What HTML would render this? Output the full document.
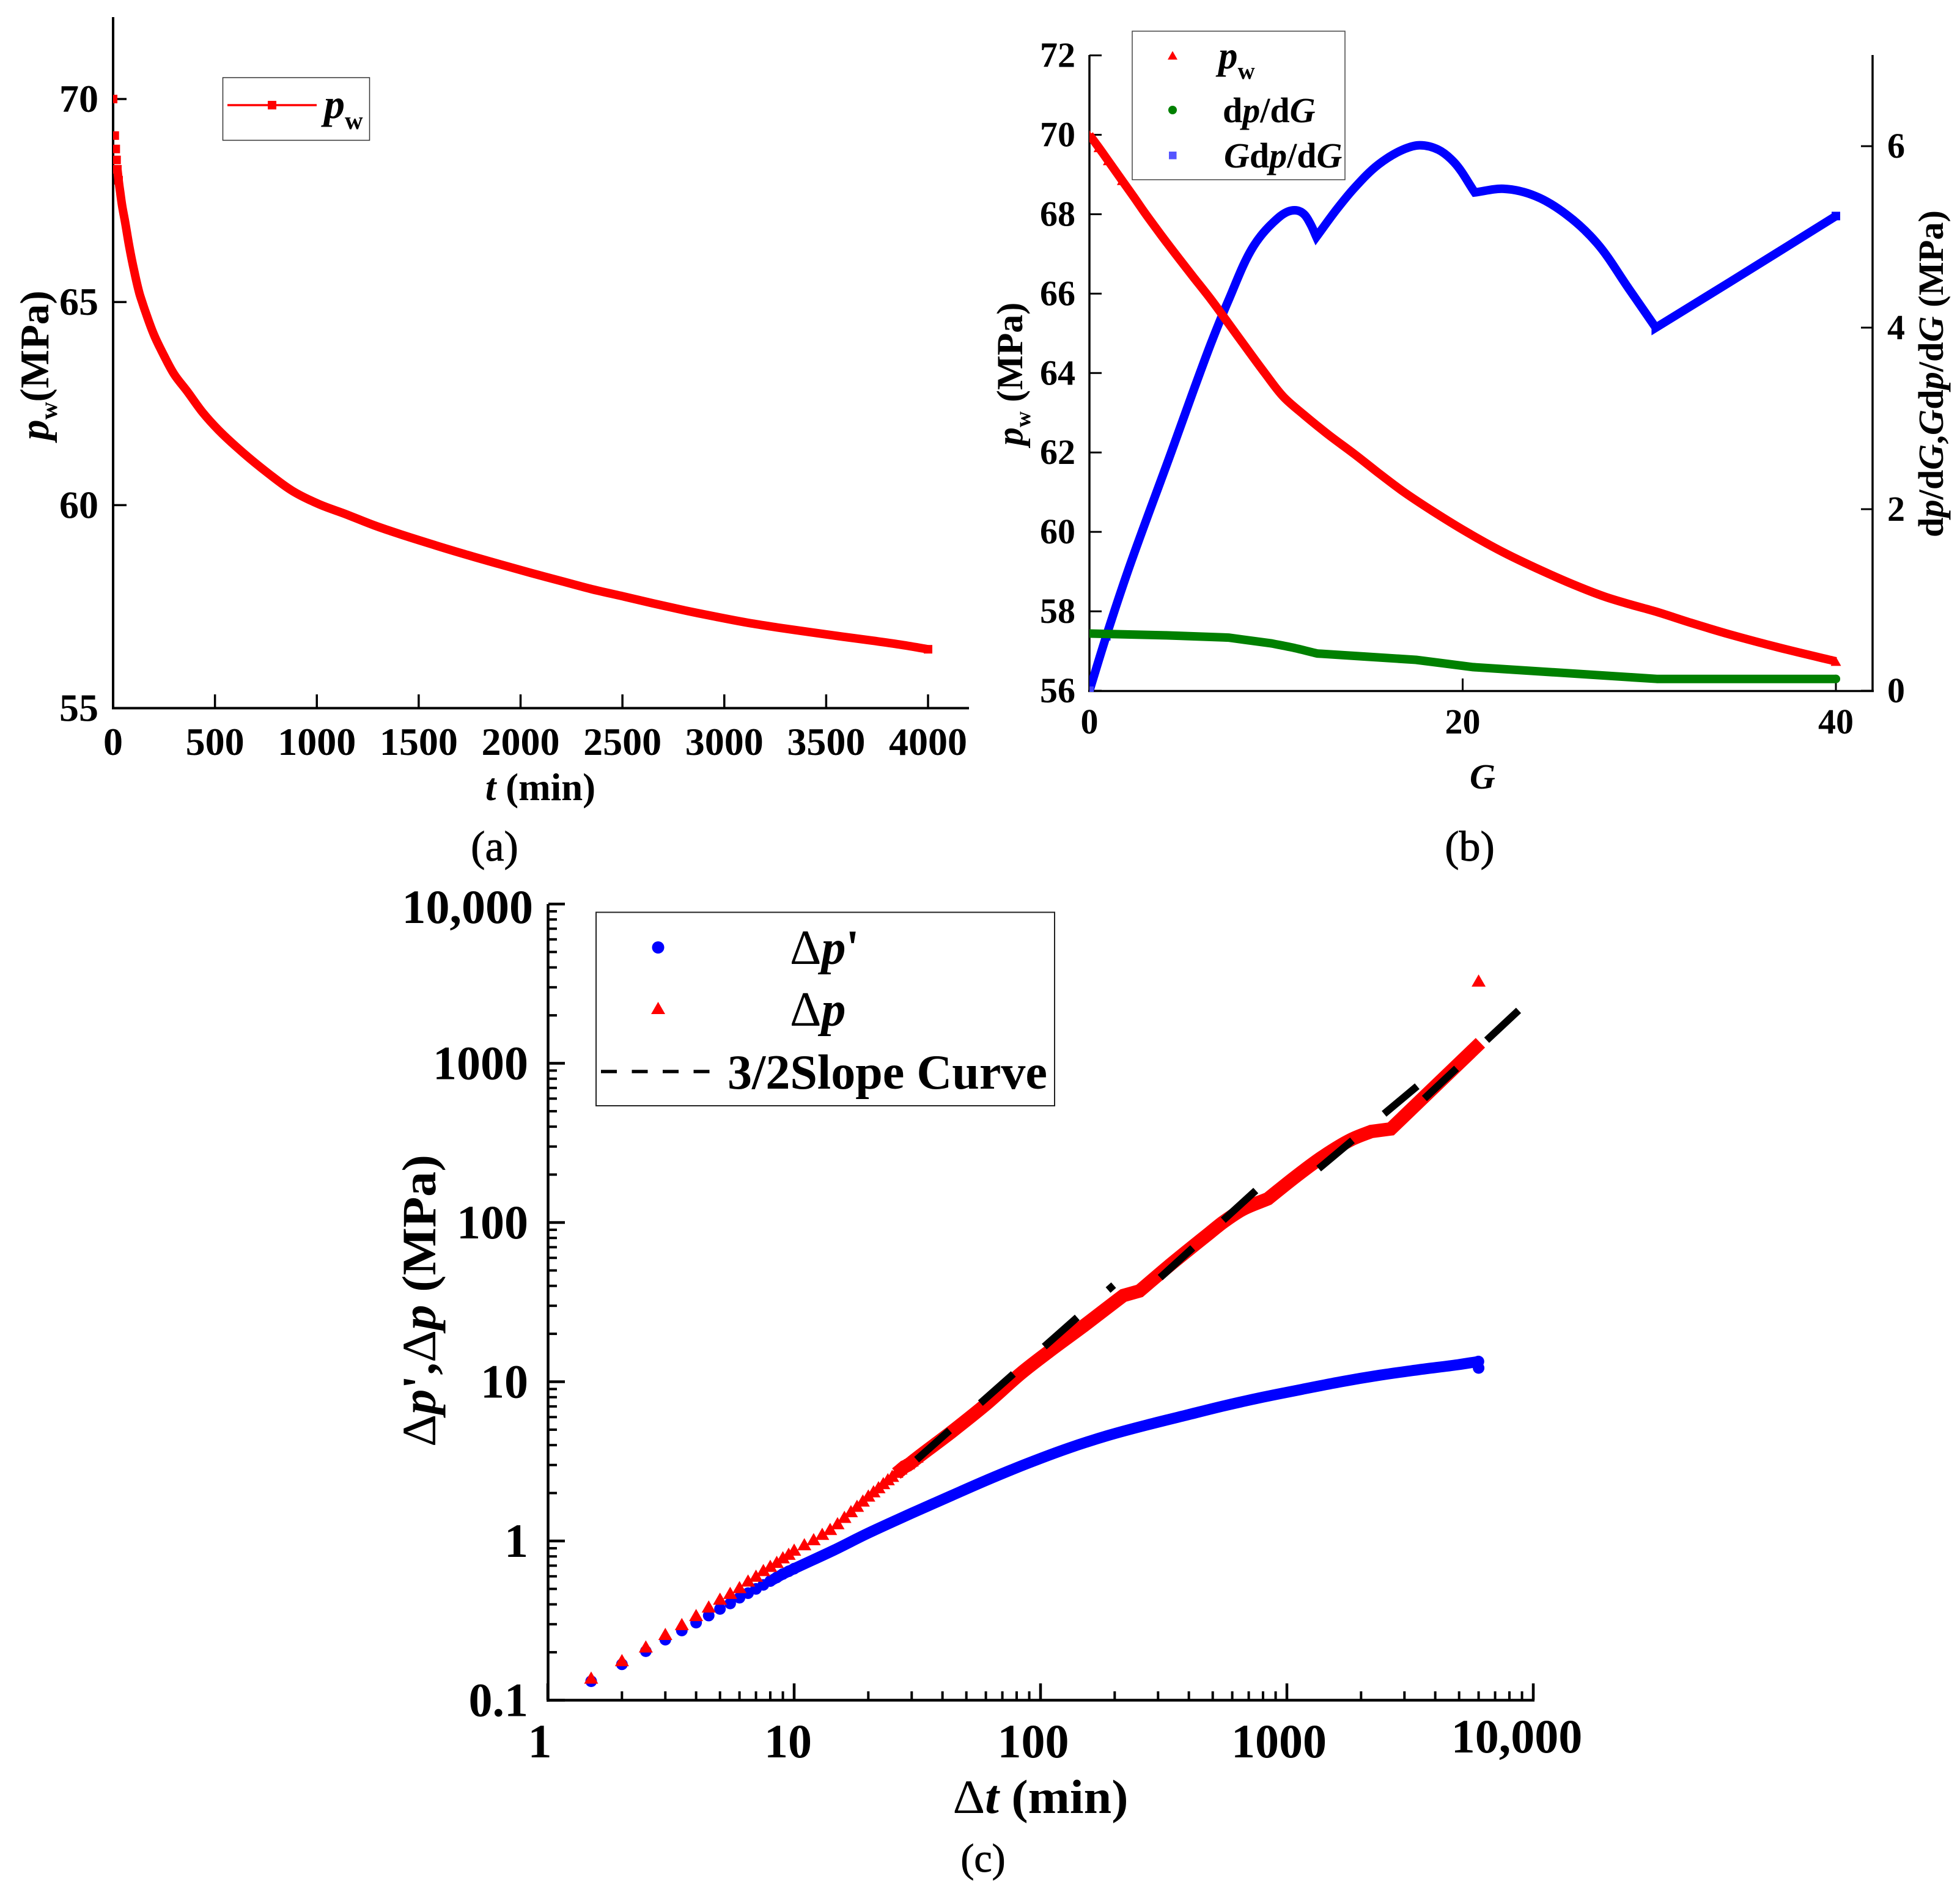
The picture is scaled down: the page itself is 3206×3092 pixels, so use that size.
<!DOCTYPE html>
<html lang="en">
<head>
<meta charset="utf-8">
<title>Pressure fall-off analysis charts</title>
<style>
html,body{margin:0;padding:0;background:#fff;}
svg{display:block;}
text{font-family:"Liberation Serif",serif;font-weight:bold;fill:#000;}
.i{font-style:italic;}
.cap{font-weight:normal;stroke:#000;stroke-width:0.9;}
</style>
</head>
<body>
<svg id="fig" xmlns="http://www.w3.org/2000/svg" width="3206" height="3092" viewBox="0 0 3206 3092">
<defs>
<clipPath id="clipA"><rect x="185" y="20" width="1410" height="1140"/></clipPath>
<clipPath id="clipB"><rect x="1782" y="60" width="1290" height="1072"/></clipPath>
</defs>
<rect width="3206" height="3092" fill="#fff"/>

<g id="panelA">
<g id="axA"></g>
<g id="seriesA" clip-path="url(#clipA)"></g>
<text x="884" y="1309" font-size="63" text-anchor="middle"><tspan class="i">t</tspan> (min)</text>
<text transform="translate(79,720) rotate(-90)" font-size="67"><tspan class="i">p</tspan><tspan font-size="40" dy="14">w</tspan><tspan dy="-14">(MPa)</tspan></text>
<g>
<rect x="364.5" y="127" width="240" height="102.5" fill="#fff" stroke="#333" stroke-width="1.5"/>
<line x1="372" y1="172" x2="518" y2="172" stroke="#f00" stroke-width="3.5"/>
<rect x="438" y="165" width="14" height="14" fill="#f00"/>
<text x="530" y="193" font-size="68" class="i">p<tspan font-size="41" dy="18" font-style="normal">w</tspan></text>
</g>
<text x="809" y="1408" font-size="70" text-anchor="middle" class="cap">(a)</text>
</g>

<g id="panelB">
<g id="axB"></g>
<g id="seriesB" clip-path="url(#clipB)"></g>
<text x="2425" y="1290" font-size="58" text-anchor="middle" class="i">G</text>
<text transform="translate(1672,729) rotate(-90)" font-size="60"><tspan class="i">p</tspan><tspan font-size="36" dy="13">w</tspan><tspan dy="-13"> (MPa)</tspan></text>
<text transform="translate(3178,879) rotate(-90)" font-size="58" textLength="535" lengthAdjust="spacingAndGlyphs">d<tspan class="i">p</tspan>/d<tspan class="i">G</tspan>,<tspan class="i">G</tspan>d<tspan class="i">p</tspan>/d<tspan class="i">G</tspan> (MPa)</text>
<g>
<rect x="1852" y="51" width="348" height="243" fill="#fff" stroke="#444" stroke-width="1.5"/>
<polygon points="1918,83.5 1926,97.5 1910,97.5" fill="#f00"/>
<circle cx="1918" cy="180" r="7" fill="#008000"/>
<rect x="1912" y="248" width="12.5" height="12.5" fill="#5555ff"/>
<text x="1993" y="112" font-size="63" class="i">p<tspan font-size="39" dy="17" font-style="normal">w</tspan></text>
<text x="2000" y="200" font-size="58">d<tspan class="i">p</tspan>/d<tspan class="i">G</tspan></text>
<text x="2002" y="274" font-size="58"><tspan class="i">G</tspan>d<tspan class="i">p</tspan>/d<tspan class="i">G</tspan></text>
</g>
<text x="2404" y="1408" font-size="70" text-anchor="middle" class="cap">(b)</text>
</g>

<g id="panelC">
<g id="axC"></g>
<g id="seriesC"></g>
<text x="1702" y="2966" font-size="78" text-anchor="middle" textLength="287" lengthAdjust="spacingAndGlyphs"><tspan font-weight="normal">Δ</tspan><tspan class="i">t</tspan> (min)</text>
<text transform="translate(712,2367) rotate(-90)" font-size="78" textLength="478" lengthAdjust="spacingAndGlyphs"><tspan font-weight="normal">Δ</tspan><tspan class="i">p</tspan>',<tspan font-weight="normal">Δ</tspan><tspan class="i">p</tspan> (MPa)</text>
<g>
<rect x="975" y="1492.5" width="750" height="316.5" fill="#fff" stroke="#222" stroke-width="2"/>
<circle cx="1076.5" cy="1550" r="10" fill="#00f"/>
<polygon points="1076.5,1639 1088,1659 1065,1659" fill="#f00"/>
<line x1="983" y1="1753" x2="1161" y2="1753" stroke="#000" stroke-width="5.5" stroke-dasharray="26 24.5"/>
<text x="1292" y="1577" font-size="80"><tspan font-weight="normal">Δ</tspan><tspan class="i">p</tspan>'</text>
<text x="1292" y="1678" font-size="80"><tspan font-weight="normal">Δ</tspan><tspan class="i">p</tspan></text>
<text x="1190" y="1781" font-size="80" textLength="523" lengthAdjust="spacingAndGlyphs">3/2Slope Curve</text>
</g>
<text x="1608" y="3062" font-size="66" text-anchor="middle" class="cap">(c)</text>
</g>
</svg>

<script>
// ---------- Panel (a) data ----------
const aTicksX = [0, 500, 1000, 1500, 2000, 2500, 3000, 3500, 4000];
const aTicksY = [55, 60, 65, 70];
const aTime = [0, 8, 13, 17, 21, 27, 35, 45, 58, 80, 104, 130, 144, 156, 200, 248, 300, 364, 440, 517, 640, 762, 880, 1007, 1140, 1282, 1430, 1588, 1740, 1894, 2050, 2200, 2350, 2506, 2650, 2812, 2960, 3118, 3270, 3424, 3580, 3730, 3870, 4000];
const aPressure = [70, 69.1, 68.77, 68.5, 68.27, 68.0, 67.7, 67.35, 67.0, 66.35, 65.75, 65.2, 64.98, 64.8, 64.2, 63.7, 63.22, 62.8, 62.28, 61.85, 61.28, 60.78, 60.35, 60.03, 59.78, 59.5, 59.25, 59, 58.77, 58.55, 58.33, 58.13, 57.93, 57.75, 57.58, 57.4, 57.25, 57.1, 56.98, 56.87, 56.76, 56.66, 56.56, 56.45];

// ---------- Panel (b) data ----------
const bTicksX = [0, 20, 40];
const bTicksLeft = [56, 58, 60, 62, 64, 66, 68, 70, 72];
const bTicksRight = [0, 2, 4, 6];
const bPwG = [0, 0.5, 1, 1.75, 2.4, 2.99, 3.8, 4.77, 5.6, 6.52, 7.19, 8.3, 9.4, 10.4, 11.49, 12.8, 14.17, 15.5, 16.86, 18.4, 20.2, 22.2, 24.25, 25.9, 27.6, 29, 30.3, 32.3, 34.3, 37, 40];
const bPw = [70, 69.68, 69.35, 68.85, 68.42, 68.02, 67.5, 66.9, 66.4, 65.85, 65.42, 64.7, 64, 63.4, 62.95, 62.45, 61.97, 61.48, 61, 60.52, 60, 59.48, 59.02, 58.68, 58.37, 58.17, 58, 57.7, 57.42, 57.08, 56.74];
const bDpG = [0, 4.1, 7.45, 9.8, 11, 12.2, 17.5, 20.56, 30.4, 40];
const bDp = [0.63, 0.61, 0.585, 0.52, 0.47, 0.41, 0.34, 0.26, 0.13, 0.13];
const bGdpG = [0, 0.9, 2.08, 4.37, 5.6, 6.5, 7.45, 8.8, 9.8, 10.65, 11.15, 11.5, 11.85, 12.16, 13.2, 14.2, 15.5, 16.9, 17.7, 18.7, 19.55, 20.65, 22.2, 23.9, 25.6, 27.2, 28.9, 30.35, 34.3, 40];
const bGdp = [0, 0.6, 1.33, 2.62, 3.32, 3.82, 4.3, 4.9, 5.15, 5.28, 5.29, 5.25, 5.14, 5.0, 5.29, 5.54, 5.8, 5.97, 6.01, 5.96, 5.82, 5.49, 5.53, 5.45, 5.24, 4.93, 4.43, 4, 4.5, 5.23];

// ---------- Panel (c) data ----------
const cTicksX = [1, 10, 100, 1000, 10000];
const cLabelsX = ['1', '10', '100', '1000', '10,000'];
const cTicksY = [0.1, 1, 10, 100, 1000, 10000];
const cLabelsY = ['0.1', '1', '10', '100', '1000', '10,000'];
const cMinor = [2, 3, 4, 5, 6, 7, 8, 9];
const cBlueT = [1.5, 2, 2.5, 3, 3.5, 4, 4.5, 5, 5.5, 6, 6.5, 7, 7.5, 8, 8.5, 9, 9.5, 10, 14.6, 19.5, 30.2, 43.6, 62.8, 90, 130, 188, 270, 388, 560, 800, 1153, 1660, 2390, 3430, 4950, 5990, 6000];
const cBlueV = [0.1315, 0.168, 0.203, 0.24, 0.274, 0.307, 0.34, 0.374, 0.405, 0.44, 0.47, 0.5, 0.53, 0.56, 0.59, 0.62, 0.645, 0.67, 0.88, 1.1, 1.5, 1.93, 2.47, 3.1, 3.83, 4.6, 5.35, 6.15, 7.08, 8, 8.96, 10, 11, 11.9, 12.8, 13.4, 12.2];
const cRedT = [1.5, 2, 2.5, 3, 3.5, 4, 4.5, 5, 5.5, 6, 6.5, 7, 7.5, 8, 8.5, 9, 9.5, 10, 11, 12, 13, 14, 15, 16, 17, 18, 19, 20, 21, 22, 23, 24, 25, 26, 27, 28, 29, 30, 31.4, 43.6, 59.8, 83.3, 107.7, 150, 188.5, 217, 252.4, 334, 490, 549, 662, 838, 1071, 1393, 1833, 2198, 2642, 6100];
const cRedV = [0.135, 0.174, 0.212, 0.254, 0.293, 0.334, 0.378, 0.423, 0.46, 0.5, 0.55, 0.59, 0.64, 0.68, 0.72, 0.77, 0.81, 0.86, 0.93, 1.0, 1.08, 1.16, 1.26, 1.38, 1.5, 1.62, 1.75, 1.88, 2.0, 2.12, 2.25, 2.38, 2.5, 2.65, 2.78, 2.92, 3.0, 3.12, 3.3, 4.85, 7.18, 11.3, 15.4, 22.5, 29.5, 34.8, 37.2, 53.8, 86.9, 100, 121, 141, 191, 258, 333, 373, 387, 1345];
const cOutlierT = [6000];
const cOutlierV = [3310];
const cSlopeT1 = [31.4, 306, 1346, 3615];
const cSlopeV1 = [3.24, 45.1, 218, 601];
const cSlopeT2 = [198, 752, 3378, 8716];
const cSlopeV2 = [40.4, 160, 718, 2148];

// ---------- Axis functions ----------
const xA = t => 185 + t / 4000 * (1518 - 185);
const yA = p => 1158.5 - (p - 55) / 15 * (1158.5 - 162);
const xB = g => 1782 + g / 40 * (3003 - 1782);
const yBL = p => 1130 - (p - 56) / 16 * (1130 - 90.6);
const yBR = v => 1130 - v / 7 * (1130 - 90.6);
const xC = t => 896 + Math.log10(t) * 403;
const yC = v => 2781.5 - (Math.log10(v) + 1) * 260.5;

const SVGNS = 'http://www.w3.org/2000/svg';
function mk(parent, tag, attrs, txt) {
  const el = document.createElementNS(SVGNS, tag);
  for (const k in attrs) el.setAttribute(k, attrs[k]);
  if (txt !== undefined) el.textContent = txt;
  parent.appendChild(el);
  return el;
}
// Smooth curve through the data points; turns sharper than sharpDeg stay as corners.
function curve(xs, ys, fx, fy, sharpDeg) {
  const P = xs.map((x, i) => [fx(x), fy(ys[i])]);
  const n = P.length;
  const unit = (a, b) => { const dx = b[0] - a[0], dy = b[1] - a[1], l = Math.hypot(dx, dy) || 1; return [dx / l, dy / l]; };
  const inT = [], outT = [];
  for (let i = 0; i < n; i++) {
    if (i === 0) { outT[i] = unit(P[0], P[1]); inT[i] = outT[i]; continue; }
    if (i === n - 1) { inT[i] = unit(P[n - 2], P[n - 1]); outT[i] = inT[i]; continue; }
    const a = unit(P[i - 1], P[i]), b = unit(P[i], P[i + 1]);
    const turn = Math.acos(Math.max(-1, Math.min(1, a[0] * b[0] + a[1] * b[1]))) * 180 / Math.PI;
    if (turn > sharpDeg) { inT[i] = a; outT[i] = b; }
    else { const m = unit([0, 0], [a[0] + b[0], a[1] + b[1]]); inT[i] = m; outT[i] = m; }
  }
  let d = 'M' + P[0][0].toFixed(1) + ' ' + P[0][1].toFixed(1);
  for (let i = 0; i < n - 1; i++) {
    const L = Math.hypot(P[i + 1][0] - P[i][0], P[i + 1][1] - P[i][1]) / 3;
    d += 'C' + (P[i][0] + outT[i][0] * L).toFixed(1) + ' ' + (P[i][1] + outT[i][1] * L).toFixed(1) + ' ' +
      (P[i + 1][0] - inT[i + 1][0] * L).toFixed(1) + ' ' + (P[i + 1][1] - inT[i + 1][1] * L).toFixed(1) + ' ' +
      P[i + 1][0].toFixed(1) + ' ' + P[i + 1][1].toFixed(1);
  }
  return d;
}
function tri(cx, cy, w, h) {
  return cx + ',' + (cy - h / 2) + ' ' + (cx + w / 2) + ',' + (cy + h / 2) + ' ' + (cx - w / 2) + ',' + (cy + h / 2);
}

// ---------- Panel (a) ----------
const axA = document.getElementById('axA');
const seriesA = document.getElementById('seriesA');
const aAxisY = mk(axA, 'line', {x1:185, y1:28, x2:185, y2:1160, stroke:'#000', 'stroke-width':4});


const aAxisX = mk(axA, 'line', {x1:183, y1:1158.5, x2:1585, y2:1158.5, stroke:'#000', 'stroke-width':4});


aTicksX.forEach(v => {
  const t = mk(axA, 'line', {x1:xA(v), y1:1158, x2:xA(v), y2:1136, stroke:'#000', 'stroke-width':3.5});
  
  
  const l = mk(axA, 'text', {x:xA(v), y:1235, 'font-size':64, 'text-anchor':'middle'}, String(v));
  
  
});
aTicksY.forEach(v => {
  const t = mk(axA, 'line', {x1:185, y1:yA(v), x2:207, y2:yA(v), stroke:'#000', 'stroke-width':3.5});
  
  
  const l = mk(axA, 'text', {x:161, y:yA(v) + 21, 'font-size':64, 'text-anchor':'end'}, String(v));
  
  
});
const aIdx = aTime.findIndex(t => t >= 21);
const aLine = mk(seriesA, 'path', {d:curve(aTime.slice(aIdx), aPressure.slice(aIdx), xA, yA, 60), fill:'none', stroke:'#f00', 'stroke-width':14, 'stroke-linejoin':'round'});


aTime.forEach((t, i) => {
  if (t > 30 && i !== aTime.length - 1) return;
  const m = mk(seriesA, 'rect', {x:xA(t) - 7, y:yA(aPressure[i]) - 7, width:14, height:14, fill:'#f00'});
  
  
});

// ---------- Panel (b) ----------
const axB = document.getElementById('axB');
const seriesB = document.getElementById('seriesB');
const bAxisL = mk(axB, 'line', {x1:1782, y1:90, x2:1782, y2:1132, stroke:'#000', 'stroke-width':3.5});


const bAxisR = mk(axB, 'line', {x1:3063, y1:90, x2:3063, y2:1132, stroke:'#000', 'stroke-width':3.5});


const bAxisX = mk(axB, 'line', {x1:1780, y1:1130.5, x2:3065, y2:1130.5, stroke:'#000', 'stroke-width':3.5});


bTicksX.forEach(v => {
  const t = mk(axB, 'line', {x1:xB(v), y1:1130, x2:xB(v), y2:1110, stroke:'#000', 'stroke-width':3});
  
  
  const l = mk(axB, 'text', {x:xB(v), y:1200, 'font-size':58, 'text-anchor':'middle'}, String(v));
  
  
});
bTicksLeft.forEach(v => {
  const t = mk(axB, 'line', {x1:1782, y1:yBL(v), x2:1802, y2:yBL(v), stroke:'#000', 'stroke-width':3});
  
  
  const l = mk(axB, 'text', {x:1759, y:yBL(v) + 19, 'font-size':58, 'text-anchor':'end'}, String(v));
  
  
});
bTicksRight.forEach(v => {
  const t = mk(axB, 'line', {x1:3044, y1:yBR(v), x2:3063, y2:yBR(v), stroke:'#000', 'stroke-width':3});
  
  
  const l = mk(axB, 'text', {x:3087, y:yBR(v) + 19, 'font-size':58}, String(v));
  
  
});
const bBlue = mk(seriesB, 'path', {d:curve(bGdpG, bGdp, xB, yBR, 50), fill:'none', stroke:'#00f', 'stroke-width':14, 'stroke-linejoin':'miter'});


bGdpG.forEach((g, i) => {
  if (i > 1 && i !== bGdpG.length - 1) return;
  const m = mk(seriesB, 'rect', {x:xB(g) - 7, y:yBR(bGdp[i]) - 7, width:14, height:14, fill:i === 0 ? '#4444ff' : '#00f'});
  
  
});
const bGreen = mk(seriesB, 'path', {d:curve(bDpG, bDp, xB, yBR, 3), fill:'none', stroke:'#008000', 'stroke-width':14, 'stroke-linejoin':'round', 'stroke-linecap':'round'});


bDpG.forEach((g, i) => {
  if (i !== 0 && i !== bDpG.length - 1) return;
  const m = mk(seriesB, 'circle', {cx:xB(g), cy:yBR(bDp[i]), r:7, fill:'#008000'});
  
  
});
const bRed = mk(seriesB, 'path', {d:curve(bPwG, bPw, xB, yBL, 60), fill:'none', stroke:'#f00', 'stroke-width':14, 'stroke-linejoin':'round'});


bPwG.forEach((g, i) => {
  if (i > 3 && i !== bPwG.length - 1) return;
  const m = mk(seriesB, 'polygon', {points:tri(xB(g), yBL(bPw[i]), 17, 15), fill:'#f00'});
  
  
});

// ---------- Panel (c) ----------
const axC = document.getElementById('axC');
const seriesC = document.getElementById('seriesC');
const cAxisY = mk(axC, 'line', {x1:896.5, y1:1479, x2:896.5, y2:2784, stroke:'#000', 'stroke-width':4.5});


const cAxisX = mk(axC, 'line', {x1:894, y1:2781.5, x2:2510, y2:2781.5, stroke:'#000', 'stroke-width':4.5});


cTicksX.forEach((v, i) => {
  const t = mk(axC, 'line', {x1:xC(v), y1:2781, x2:xC(v), y2:2754, stroke:'#000', 'stroke-width':4.5});
  
  
  const wide = i === cTicksX.length - 1;
  const lx = [883, 1289, 1690, 2092, 2481][i];
  const l = mk(axC, 'text', {x:lx, y:wide ? 2867 : 2875, 'font-size':78, 'text-anchor':'middle'}, cLabelsX[i]);
  
  
  if (i < cTicksX.length - 1) cMinor.forEach(m => {
    const mt = mk(axC, 'line', {x1:xC(v * m), y1:2781, x2:xC(v * m), y2:2767, stroke:'#000', 'stroke-width':4});
    
    
  });
});
cTicksY.forEach((v, i) => {
  const t = mk(axC, 'line', {x1:897, y1:yC(v), x2:924, y2:yC(v), stroke:'#000', 'stroke-width':4.5});
  
  
  const top = i === cTicksY.length - 1;
  const l = mk(axC, 'text', {x:top ? 872 : 864, y:yC(v) + (top ? 31 : 26), 'font-size':78, 'text-anchor':'end'}, cLabelsY[i]);
  
  
  if (!top) cMinor.forEach(m => {
    const mt = mk(axC, 'line', {x1:897, y1:yC(v * m), x2:911, y2:yC(v * m), stroke:'#000', 'stroke-width':4});
    
    
  });
});
const cBIdx = cBlueT.findIndex(t => t >= 8);
const cBlueLine = mk(seriesC, 'path', {d:curve(cBlueT.slice(cBIdx, -1), cBlueV.slice(cBIdx, -1), xC, yC, 60), fill:'none', stroke:'#00f', 'stroke-width':18, 'stroke-linejoin':'round', 'stroke-linecap':'round'});


cBlueT.forEach((t, i) => {
  if (t > 10 && i < cBlueT.length - 2) return;
  const m = mk(seriesC, 'circle', {cx:xC(t), cy:yC(cBlueV[i]), r:9.5, fill:'#00f'});
  
  
});
const cRIdx = cRedT.findIndex(t => t >= 26);
const cRedLine = mk(seriesC, 'path', {d:curve(cRedT.slice(cRIdx), cRedV.slice(cRIdx), xC, yC, 14), fill:'none', stroke:'#f00', 'stroke-width':22, 'stroke-linejoin':'miter'});


cRedT.forEach((t, i) => {
  if (t > 32) return;
  const m = mk(seriesC, 'polygon', {points:tri(xC(t), yC(cRedV[i]) - 3, 23, 20), fill:'#f00'});
  
  
});
cOutlierT.forEach((t, i) => {
  const m = mk(seriesC, 'polygon', {points:tri(xC(t), yC(cOutlierV[i]), 23, 20), fill:'#f00'});
  
  
});
cSlopeT1.forEach((t, i) => {
  const s = mk(seriesC, 'line', {x1:xC(t), y1:yC(cSlopeV1[i]), x2:xC(cSlopeT2[i]), y2:yC(cSlopeV2[i]), stroke:'#000', 'stroke-width':12, 'stroke-dasharray':'72 67.5'});
  
  
});
</script>
</body>
</html>
